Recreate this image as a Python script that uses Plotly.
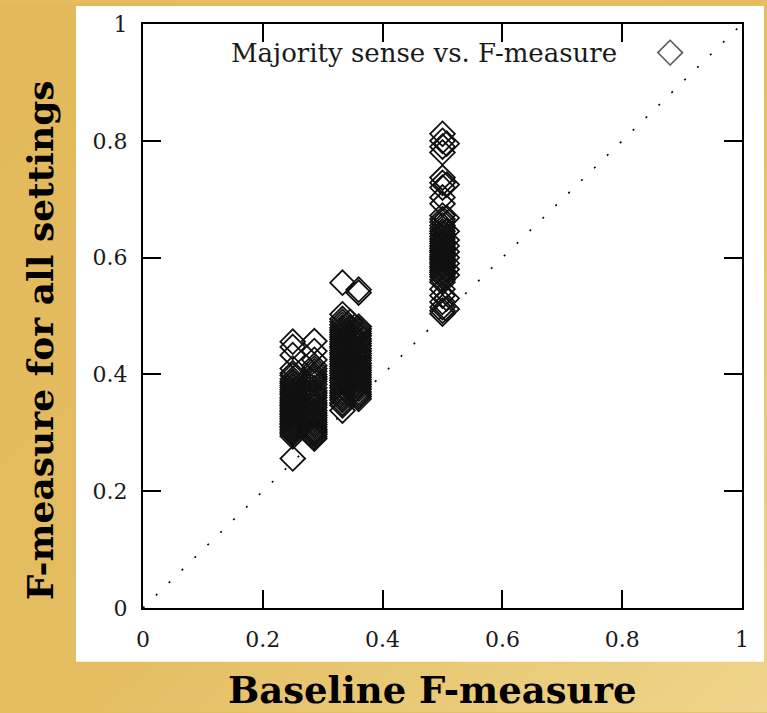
import plotly.graph_objects as go
import urllib.parse

# ---------------- data ----------------
x_ticks = [0, 0.2, 0.4, 0.6, 0.8, 1]
x_tick_text = ["0", "0.2", "0.4", "0.6", "0.8", "1"]
y_ticks = [0, 0.2, 0.4, 0.6, 0.8, 1]
y_tick_text = ["0", "0.2", "0.4", "0.6", "0.8", "1"]

baseline_a = 0.25
f_a = [0.456, 0.447, 0.433, 0.41, 0.402, 0.398, 0.392, 0.388, 0.385, 0.381,
       0.378, 0.374, 0.371, 0.368, 0.365, 0.361, 0.358, 0.355, 0.352, 0.349,
       0.347, 0.344, 0.341, 0.338, 0.336, 0.333, 0.331, 0.328, 0.325, 0.322,
       0.319, 0.316, 0.314, 0.311, 0.309, 0.306, 0.303, 0.3, 0.298, 0.294,
       0.256]

baseline_b = 0.286
f_b = [0.457, 0.44, 0.425, 0.415, 0.41, 0.405, 0.4, 0.396, 0.392, 0.388,
       0.383, 0.377, 0.372, 0.368, 0.364, 0.36, 0.355, 0.351, 0.347, 0.343,
       0.338, 0.334, 0.33, 0.326, 0.322, 0.318, 0.314, 0.31, 0.306, 0.303,
       0.3, 0.297, 0.293, 0.29]

baseline_c = 0.333
f_c = [0.557, 0.503, 0.495, 0.49, 0.485, 0.48, 0.476, 0.472, 0.468, 0.464,
       0.46, 0.456, 0.452, 0.448, 0.445, 0.441, 0.437, 0.434, 0.43, 0.426,
       0.422, 0.418, 0.414, 0.41, 0.406, 0.402, 0.398, 0.394, 0.39, 0.386,
       0.381, 0.377, 0.372, 0.368, 0.364, 0.36, 0.356, 0.351, 0.347, 0.338]

baseline_d = 0.346
f_d = [0.49, 0.48, 0.471, 0.462, 0.452, 0.443, 0.432, 0.421, 0.411, 0.402,
       0.392, 0.383, 0.374, 0.365]

baseline_e = 0.36
f_e = [0.545, 0.54, 0.482, 0.478, 0.474, 0.47, 0.466, 0.461, 0.457, 0.453,
       0.449, 0.444, 0.44, 0.436, 0.432, 0.428, 0.424, 0.419, 0.415, 0.411,
       0.407, 0.403, 0.399, 0.395, 0.391, 0.387, 0.383, 0.379, 0.375, 0.37,
       0.366, 0.362, 0.358]

baseline_f = 0.5
f_f = [0.812, 0.80, 0.79, 0.78, 0.737, 0.728, 0.72, 0.703, 0.692, 0.672,
       0.666, 0.661, 0.655, 0.65, 0.645, 0.641, 0.636, 0.632, 0.628, 0.624,
       0.62, 0.616, 0.612, 0.609, 0.605, 0.602, 0.599, 0.596, 0.592, 0.589,
       0.585, 0.582, 0.578, 0.575, 0.571, 0.567, 0.562, 0.558, 0.546, 0.535,
       0.524, 0.515, 0.509, 0.504]

baseline_g = 0.507
f_g = [0.795, 0.725, 0.668, 0.645, 0.63, 0.62, 0.61, 0.60, 0.59, 0.58,
       0.57, 0.53, 0.512]

diag_x = [0, 1]
diag_y = [0, 1]

legend_label = "Majority sense vs. F-measure"
legend_key_x = [0.88]
legend_key_y = [0.951]

# ---------------- build ----------------
xs, ys = [], []
for b, vals in [(baseline_a, f_a), (baseline_b, f_b), (baseline_c, f_c),
                (baseline_d, f_d), (baseline_e, f_e), (baseline_f, f_f),
                (baseline_g, f_g)]:
    xs += [b] * len(vals)
    ys += vals

marker_style = dict(symbol="diamond-open", size=19,
                    line=dict(width=1.8, color="#111"), color="#111")

fig = go.Figure()
fig.add_trace(go.Scatter(x=diag_x, y=diag_y, mode="lines",
                         line=dict(color="black", width=1.6, dash="2px,16px"),
                         hoverinfo="skip", showlegend=False))
fig.add_trace(go.Scatter(x=xs, y=ys, mode="markers", marker=marker_style,
                         showlegend=False))
fig.add_trace(go.Scatter(x=legend_key_x, y=legend_key_y, mode="markers",
                         marker=dict(symbol="diamond-open", size=19,
                                     line=dict(width=1.5, color="#555"),
                                     color="#555"),
                         showlegend=False, hoverinfo="skip", cliponaxis=False))

W, H = 767, 713
L, R, T, B = 143, 25, 21, 105
pw, ph = W - L - R, H - T - B

def px2paper_x(px):
    return (px - L) / pw

def px2paper_y(py):
    return (H - B - py) / ph

svg = (
    "<svg xmlns='http://www.w3.org/2000/svg' width='767' height='713'>"
    "<defs><linearGradient id='g' x1='0' y1='0' x2='1' y2='1'>"
    "<stop offset='0' stop-color='#e2b85a'/>"
    "<stop offset='0.55' stop-color='#e5be62'/>"
    "<stop offset='1' stop-color='#eed58c'/>"
    "</linearGradient></defs>"
    "<rect width='767' height='713' fill='url(#g)'/></svg>"
)
src = "data:image/svg+xml;charset=utf-8," + urllib.parse.quote(svg)

tick_font = dict(family="DejaVu Serif", size=22, color="#1a1a1a")

fig.update_layout(
    width=W, height=H,
    margin=dict(l=L, r=R, t=T, b=B, pad=0),
    paper_bgcolor="#e5bd5e",
    plot_bgcolor="white",
    images=[dict(source=src, xref="paper", yref="paper",
                 x=px2paper_x(0), y=px2paper_y(0),
                 sizex=W / pw, sizey=H / ph, xanchor="left", yanchor="top",
                 sizing="stretch", layer="below")],
    shapes=[dict(type="rect", xref="paper", yref="paper",
                 x0=px2paper_x(76), x1=px2paper_x(764),
                 y0=px2paper_y(662), y1=px2paper_y(3),
                 fillcolor="white", line=dict(width=0), layer="below")],
    xaxis=dict(range=[0, 1], tickvals=x_ticks, ticktext=x_tick_text,
               ticks="inside", ticklen=18, tickwidth=1.5, tickcolor="black",
               showline=True, linecolor="black", linewidth=2, mirror="ticks",
               showgrid=False, zeroline=False, ticklabelstandoff=11,
               tickfont=tick_font),
    yaxis=dict(range=[0, 1], tickvals=y_ticks, ticktext=y_tick_text,
               ticks="inside", ticklen=18, tickwidth=1.5, tickcolor="black",
               showline=True, linecolor="black", linewidth=2, mirror="ticks",
               showgrid=False, zeroline=False, ticklabelstandoff=9,
               tickfont=tick_font),
    annotations=[
        dict(text=legend_label, xref="x", yref="y", x=0.794, y=0.951,
             xanchor="right", yanchor="middle", showarrow=False,
             font=dict(family="DejaVu Serif", size=26, color="#1a1a1a")),
        dict(text="<b>F-measure for all settings</b>", xref="paper", yref="paper",
             x=px2paper_x(40), y=px2paper_y(339), textangle=-90,
             xanchor="center", yanchor="middle", showarrow=False,
             font=dict(family="DejaVu Serif", size=36, color="black")),
        dict(text="<b>Baseline F-measure</b>", xref="paper", yref="paper",
             x=px2paper_x(432), y=px2paper_y(690),
             xanchor="center", yanchor="middle", showarrow=False,
             font=dict(family="DejaVu Serif", size=37, color="black")),
    ],
)

fig.write_html("out.html")
